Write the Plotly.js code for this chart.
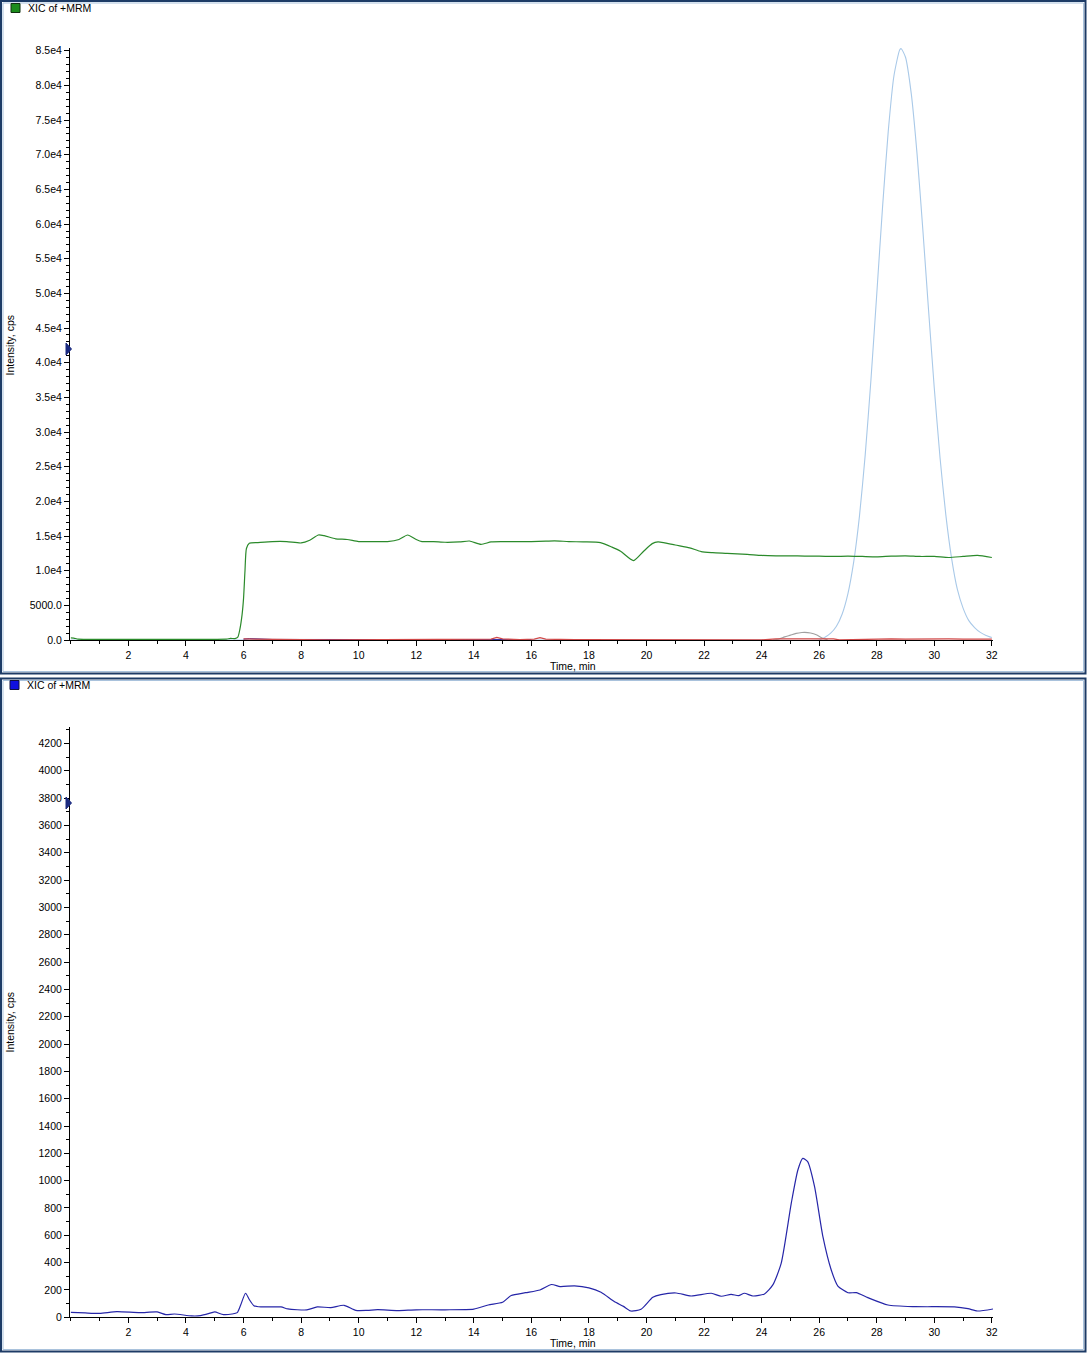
<!DOCTYPE html>
<html>
<head>
<meta charset="utf-8">
<script src="https://cdn.plot.ly/plotly-3.0.1.min.js"></script>
<style>
html,body{margin:0;padding:0;background:#fff;}
#chart{width:1088px;height:1353px;}
</style>
</head>
<body>
<div id="chart"></div>
<script>
// ---------- DATA ----------
// Top panel: green trace
const greenTime = [0,0.1,0.25,0.5,1,2,3,4,5,5.4,5.55,5.7,5.8,5.87,5.95,6.0,6.05,6.1,6.2,6.5,7.0,7.5,8.0,8.3,8.6,8.8,9.2,9.6,10.0,10.5,11.0,11.4,11.7,12.0,12.2,12.6,13.0,13.5,13.85,14.25,14.6,15.0,15.5,16.0,16.5,16.8,17.3,17.8,18.4,18.8,19.1,19.55,19.9,20.2,20.4,20.6,21.0,21.5,21.9,22.3,22.8,23.5,24,24.5,25,25.5,26,26.5,27,27.5,28,28.5,29,29.5,30,30.5,31,31.5,32];
const greenIntensity = [300,280,120,100,100,100,100,100,100,120,230,200,400,1500,3700,6000,10000,13200,13950,14050,14200,14200,14000,14400,15150,15050,14600,14500,14200,14200,14200,14500,15150,14500,14200,14200,14100,14150,14280,13800,14150,14200,14200,14200,14250,14300,14200,14150,14050,13400,12800,11450,12800,13900,14150,14050,13700,13300,12750,12600,12500,12350,12200,12150,12150,12100,12100,12050,12100,12050,12000,12100,12150,12050,12050,11900,12050,12200,11900];

// Top panel: light blue main peak
const lightBlueTime = [0,5,10,15,20,24,26.0,26.2,26.4,26.6,26.8,27.0,27.2,27.4,27.6,27.8,28.0,28.2,28.4,28.6,28.8,28.85,29.0,29.2,29.4,29.6,29.8,30.0,30.2,30.4,30.6,30.8,31.0,31.2,31.4,31.6,31.8,32.0];
const lightBlueIntensity = [0,0,0,0,0,0,0,400,985,1980,3750,6690,11270,17870,26700,37570,49840,62300,73370,81430,85140,85300,84070,78820,70170,59320,47630,36320,26300,18080,11810,7330,4600,2800,1800,1100,650,350];

// Top panel: gray small peak
const grayTime = [24.4,24.6,24.8,25.0,25.2,25.4,25.5,25.7,25.9,26.1,26.3];
const grayIntensity = [0,150,450,700,950,1080,1100,1000,750,300,0];

// Top panel: red baseline trace
const redTime = [6.0,6.5,7.0,8.0,9.0,10.0,11.0,12.0,13.0,14.0,14.6,14.8,15.0,15.6,16.1,16.3,16.5,17.5,18.5,19.5,20.5,22.0,24.0,24.5,25.0,25.5,26.0,26.5,26.7,28.0,28.5,29.0,29.5,30.0,30.5,31.0,31.5,32.0];
const redIntensity = [150,100,60,40,30,30,40,30,30,40,120,380,150,60,140,330,120,40,30,90,30,20,20,150,160,140,150,160,20,140,160,120,150,140,160,130,150,140];

// Top panel: dark blue baseline trace
const darkBlueTime = [6.0,6.2,7.0,8.0,9.0,10.0,11.0,12.0,13.0,14.0,15.0,16.0];
const darkBlueIntensity = [120,200,80,70,60,70,60,60,70,60,70,50];

// Bottom panel: blue trace
const blueTime = [0,0.5,1.0,1.6,2.4,3.0,3.3,3.6,4.2,4.5,4.9,5.0,5.3,5.6,5.78,5.9,6.07,6.2,6.36,6.6,7.3,7.54,8.2,8.56,9.03,9.49,9.9,10.3,10.66,11.36,12,13,14,14.5,15,15.3,15.8,16.3,16.7,17,17.5,18,18.42,18.88,19.2,19.46,19.81,20.22,20.5,21.03,21.55,22.25,22.6,22.94,23.2,23.4,23.7,24.1,24.39,24.68,25.03,25.26,25.43,25.6,25.84,26.13,26.42,26.65,27.0,27.29,27.69,28.39,29.32,30.7,31.17,31.5,32.05];
const blueIntensity = [36,32,29,41,34,39,20,24,10,12,34,39,20,24,34,90,176,130,85,76,76,61,54,76,71,88,51,51,56,49,55,55,60,90,110,160,180,200,240,225,230,215,183,115,80,46,59,146,166,178,156,176,154,168,158,176,156,171,237,395,834,1078,1163,1139,956,590,346,229,180,180,144,90,78,76,63,46,61];

// Tick labels
const xTickVals = [2,4,6,8,10,12,14,16,18,20,22,24,26,28,30,32];
const xTickText = ["2","4","6","8","10","12","14","16","18","20","22","24","26","28","30","32"];
const topYTickVals = [0,5000,10000,15000,20000,25000,30000,35000,40000,45000,50000,55000,60000,65000,70000,75000,80000,85000];
const topYTickText = ["0.0","5000.0","1.0e4","1.5e4","2.0e4","2.5e4","3.0e4","3.5e4","4.0e4","4.5e4","5.0e4","5.5e4","6.0e4","6.5e4","7.0e4","7.5e4","8.0e4","8.5e4"];
const botYTickVals = [0,200,400,600,800,1000,1200,1400,1600,1800,2000,2200,2400,2600,2800,3000,3200,3400,3600,3800,4000,4200];
const botYTickText = ["0","200","400","600","800","1000","1200","1400","1600","1800","2000","2200","2400","2600","2800","3000","3200","3400","3600","3800","4000","4200"];

// ---------- LAYOUT ----------
const W = 1088, H = 1353;
const px = x => x / W;
const py = y => 1 - y / H;
const FONT = '"Liberation Sans", Arial, sans-serif';

function line(color, width) { return {color: color, width: width, shape: 'spline', smoothing: 0.6}; }

const traces = [
  {x: lightBlueTime, y: lightBlueIntensity, xaxis: 'x', yaxis: 'y', mode: 'lines', line: line('#a9c9e8', 1.1), hoverinfo: 'skip'},
  {x: grayTime, y: grayIntensity, xaxis: 'x', yaxis: 'y', mode: 'lines', line: line('#a0a0a0', 1.1), hoverinfo: 'skip'},
  {x: darkBlueTime, y: darkBlueIntensity, xaxis: 'x', yaxis: 'y', mode: 'lines', line: {color: '#2020a0', width: 1}, hoverinfo: 'skip'},
  {x: redTime, y: redIntensity, xaxis: 'x', yaxis: 'y', mode: 'lines', line: {color: '#d04848', width: 1.3}, hoverinfo: 'skip'},
  {x: greenTime, y: greenIntensity, xaxis: 'x', yaxis: 'y', mode: 'lines', line: line('#2b8a2b', 1.2), hoverinfo: 'skip'},
  {x: blueTime, y: blueIntensity, xaxis: 'x2', yaxis: 'y2', mode: 'lines', line: line('#2626a8', 1.2), hoverinfo: 'skip'}
];

const tickFont = {family: FONT, size: 10.5, color: '#000'};
function xAxis(anchor) {
  return {
    domain: [px(70), px(993)], range: [-0.03, 32.04], anchor: anchor,
    tickmode: 'array', tickvals: xTickVals, ticktext: xTickText,
    ticks: 'outside', ticklen: 5, tickwidth: 1, tickcolor: '#000',
    minor: {tickmode: 'linear', tick0: 0, dtick: 1, ticks: 'outside', ticklen: 3, tickcolor: '#000', showgrid: false},
    showline: true, linecolor: '#000', linewidth: 1, mirror: false,
    showgrid: false, zeroline: false, tickfont: tickFont, automargin: false, fixedrange: true
  };
}
function yAxis(anchor, dom, range, vals, text, minorStep) {
  return {
    domain: dom, range: range, anchor: anchor,
    tickmode: 'array', tickvals: vals, ticktext: text,
    ticks: 'outside', ticklen: 5, tickwidth: 1, tickcolor: '#000',
    minor: {tickmode: 'linear', tick0: 0, dtick: minorStep, ticks: 'outside', ticklen: 3, tickcolor: '#000', showgrid: false},
    showline: true, linecolor: '#000', linewidth: 1,
    showgrid: false, zeroline: false, tickfont: tickFont, automargin: false, fixedrange: true
  };
}

const frameColor = '#1d3b66';
const shapes = [
  // panel frames
  {type: 'rect', xref: 'paper', yref: 'paper', x0: px(1), x1: px(1085.5), y0: py(673.5), y1: py(1), line: {color: frameColor, width: 2}},
  {type: 'rect', xref: 'paper', yref: 'paper', x0: px(3), x1: px(1083.5), y0: py(671.5), y1: py(3), line: {color: '#a9c2dc', width: 1}},
  {type: 'rect', xref: 'paper', yref: 'paper', x0: px(1), x1: px(1085.5), y0: py(1351.5), y1: py(678.5), line: {color: frameColor, width: 2}},
  {type: 'rect', xref: 'paper', yref: 'paper', x0: px(3), x1: px(1083.5), y0: py(1349.5), y1: py(680.5), line: {color: '#a9c2dc', width: 1}},
  // legend squares
  {type: 'rect', xref: 'paper', yref: 'paper', x0: px(11), x1: px(20), y0: py(12.5), y1: py(3.5), fillcolor: '#1c8c1c', line: {color: '#103010', width: 1}},
  {type: 'rect', xref: 'paper', yref: 'paper', x0: px(10), x1: px(19), y0: py(689.5), y1: py(680.5), fillcolor: '#1010e0', line: {color: '#101040', width: 1}},
  // threshold triangles on y axes
  {type: 'path', xref: 'paper', yref: 'paper', path: `M ${px(66)} ${py(343)} L ${px(71.5)} ${py(349)} L ${px(66)} ${py(355)} Z`, fillcolor: '#1a2a80', line: {color: '#1a2a80', width: 1}},
  {type: 'path', xref: 'paper', yref: 'paper', path: `M ${px(66)} ${py(797)} L ${px(71.5)} ${py(803)} L ${px(66)} ${py(809)} Z`, fillcolor: '#1a2a80', line: {color: '#1a2a80', width: 1}}
];

const annFont = {family: FONT, size: 10.5, color: '#000'};
const annotations = [
  {xref: 'paper', yref: 'paper', x: px(26), y: py(8), xanchor: 'left', yanchor: 'middle', text: 'XIC of +MRM', showarrow: false, font: annFont},
  {xref: 'paper', yref: 'paper', x: px(25), y: py(685), xanchor: 'left', yanchor: 'middle', text: 'XIC of +MRM', showarrow: false, font: annFont},
  {xref: 'paper', yref: 'paper', x: px(573), y: py(666), xanchor: 'center', yanchor: 'middle', text: 'Time, min', showarrow: false, font: annFont},
  {xref: 'paper', yref: 'paper', x: px(573), y: py(1343), xanchor: 'center', yanchor: 'middle', text: 'Time, min', showarrow: false, font: annFont},
  {xref: 'paper', yref: 'paper', x: px(9.5), y: py(345), xanchor: 'center', yanchor: 'middle', text: 'Intensity, cps', textangle: -90, showarrow: false, font: annFont},
  {xref: 'paper', yref: 'paper', x: px(9.5), y: py(1022), xanchor: 'center', yanchor: 'middle', text: 'Intensity, cps', textangle: -90, showarrow: false, font: annFont}
];

const layout = {
  width: W, height: H,
  margin: {l: 0, r: 0, t: 0, b: 0, pad: 0},
  paper_bgcolor: '#fff', plot_bgcolor: '#fff',
  showlegend: false,
  font: {family: FONT, size: 10.5, color: '#000'},
  xaxis: xAxis('y'),
  yaxis: yAxis('x', [py(640), py(48)], [0, 85400], topYTickVals, topYTickText, 1000),
  xaxis2: xAxis('y2'),
  yaxis2: yAxis('x2', [py(1317.3), py(727)], [0, 4320], botYTickVals, botYTickText, 100),
  shapes: shapes,
  annotations: annotations
};

Plotly.newPlot('chart', traces, layout, {staticPlot: true, displayModeBar: false});
</script>
</body>
</html>
